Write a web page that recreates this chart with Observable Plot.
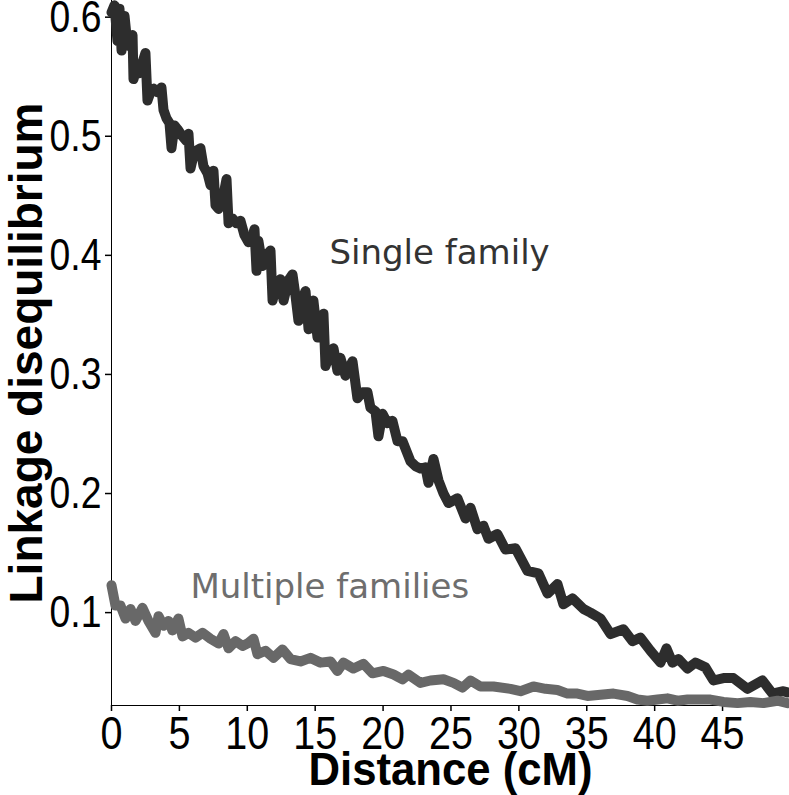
<!DOCTYPE html>
<html>
<head>
<meta charset="utf-8">
<script src="https://cdn.jsdelivr.net/npm/d3@7"></script>
<script src="https://cdn.jsdelivr.net/npm/@observablehq/plot@0.6"></script>
<style>
  html, body { margin: 0; padding: 0; background: #fff; overflow: hidden; }
  #chart { width: 789px; height: 795px; }
</style>
</head>
<body>
<div id="chart"></div>
<script>
// Single family series (distance cM, LD)
const distSingle = [0.0,0.22,0.44,0.59,0.74,0.96,1.18,1.40,1.55,1.62,1.84,2.06,2.28,2.50,2.65,2.87,3.09,3.39,3.68,3.83,4.05,4.27,4.42,4.64,4.86,5.15,5.52,5.67,5.82,6.04,6.26,6.55,6.77,7.07,7.29,7.51,7.66,7.88,8.17,8.47,8.62,8.91,9.20,9.50,9.79,10.09,10.31,10.53,10.68,10.82,11.12,11.41,11.71,11.86,12.15,12.44,12.67,13.03,13.33,13.55,13.77,14.06,14.29,14.51,14.87,15.17,15.61,15.76,16.05,16.35,16.64,16.86,17.23,17.75,18.11,18.48,18.85,19.07,19.44,19.66,19.96,20.32,20.69,21.06,21.43,22.02,22.39,22.75,23.12,23.34,23.71,24.08,24.45,24.82,25.48,26.07,26.44,26.95,27.39,27.76,28.42,29.01,29.75,30.63,31.44,32.11,32.84,33.28,33.95,34.76,35.27,36.01,36.75,37.70,38.37,38.95,39.69,40.43,40.87,41.31,41.75,42.42,43.00,43.74,44.33,45.07,45.80,46.83,47.94,48.67,49.48,49.78];
const ldSingle = [0.604,0.610,0.580,0.607,0.572,0.601,0.576,0.582,0.585,0.548,0.557,0.553,0.562,0.570,0.530,0.537,0.540,0.537,0.541,0.522,0.515,0.511,0.490,0.509,0.506,0.501,0.496,0.502,0.473,0.484,0.488,0.490,0.475,0.469,0.459,0.471,0.442,0.439,0.446,0.464,0.427,0.431,0.427,0.429,0.417,0.411,0.414,0.422,0.387,0.412,0.391,0.400,0.404,0.362,0.375,0.380,0.362,0.379,0.384,0.366,0.345,0.364,0.370,0.338,0.362,0.331,0.351,0.307,0.316,0.322,0.303,0.314,0.299,0.311,0.280,0.285,0.285,0.272,0.269,0.248,0.267,0.259,0.261,0.244,0.244,0.227,0.223,0.221,0.222,0.209,0.229,0.211,0.200,0.192,0.196,0.179,0.188,0.170,0.173,0.162,0.166,0.153,0.154,0.135,0.133,0.116,0.124,0.107,0.112,0.103,0.100,0.095,0.082,0.086,0.076,0.079,0.068,0.058,0.070,0.058,0.061,0.053,0.058,0.054,0.043,0.045,0.045,0.036,0.043,0.032,0.034,0.033];

// Multiple families series
const distMulti = [0.0,0.29,0.66,1.03,1.40,1.77,2.28,2.72,3.24,3.46,3.83,4.20,4.49,4.93,5.23,5.67,6.19,6.70,7.29,7.88,8.25,8.62,9.13,9.65,10.01,10.46,10.75,11.34,11.93,12.59,13.18,13.92,14.65,15.39,16.13,16.64,17.08,17.82,18.56,19.22,20.03,20.77,21.43,21.87,22.75,23.49,24.45,25.18,25.85,26.44,27.17,28.13,29.38,30.12,31.07,31.96,32.84,33.58,34.31,35.05,36.01,36.97,38.00,38.73,39.47,40.21,40.94,41.68,42.42,43.15,44.11,45.07,46.10,47.05,48.01,49.04,49.78];
const ldMulti = [0.123,0.106,0.106,0.095,0.103,0.093,0.104,0.093,0.083,0.097,0.089,0.093,0.085,0.095,0.080,0.083,0.079,0.083,0.078,0.074,0.082,0.070,0.076,0.072,0.074,0.078,0.065,0.068,0.062,0.069,0.061,0.059,0.062,0.058,0.059,0.051,0.058,0.053,0.057,0.049,0.051,0.048,0.044,0.048,0.041,0.043,0.044,0.041,0.037,0.043,0.038,0.038,0.036,0.034,0.038,0.036,0.035,0.032,0.032,0.030,0.031,0.032,0.030,0.027,0.026,0.027,0.028,0.026,0.027,0.027,0.027,0.025,0.024,0.025,0.024,0.026,0.024];

// Axis ticks and labels
const xTicks = [0,5,10,15,20,25,30,35,40,45];
const yTicks = [0.1,0.2,0.3,0.4,0.5,0.6];
const xTitle = ["Distance (cM)"];
const yTitle = ["Linkage disequilibrium"];
const seriesLabels = ["Single family", "Multiple families"];
const labelX = [16.05, 5.81];
const labelY = [0.402, 0.1216];

const single = distSingle.map((d, i) => ({x: d, y: ldSingle[i]}));
const multi = distMulti.map((d, i) => ({x: d, y: ldMulti[i]}));
const labels = seriesLabels.map((t, i) => ({t, x: labelX[i], y: labelY[i]}));

const chart = Plot.plot({
  width: 789,
  height: 795,
  marginLeft: 111,
  marginRight: 0,
  marginTop: 0,
  marginBottom: 90,
  style: {fontFamily: "'Liberation Sans', Arial, sans-serif", fontSize: "45px", color: "#000", background: "#fff"},
  x: {domain: [0, 49.93], ticks: xTicks, tickFormat: d3.format("d"), tickSize: 6, tickPadding: 4, line: true, label: null},
  y: {domain: [0.022, 0.614], ticks: yTicks, tickFormat: d3.format(".1f"), tickSize: 6, tickPadding: 4, line: true, label: null},
  marks: [
    Plot.line(single, {x: "x", y: "y", stroke: "#2d2d2d", strokeWidth: 10, strokeLinejoin: "round", strokeLinecap: "round"}),
    Plot.line(multi, {x: "x", y: "y", stroke: "#686868", strokeWidth: 10, strokeLinejoin: "round", strokeLinecap: "round"}),
    Plot.text(labels, {x: "x", y: "y", text: "t", textAnchor: "start", fontSize: 34, fontFamily: "'DejaVu Sans', Verdana, sans-serif", fill: (d, i) => i === 0 ? "#333333" : "#6e6e6e"}),
    Plot.text(xTitle, {text: d => d, frameAnchor: "bottom", textAnchor: "middle", lineAnchor: "middle", dy: 65, fontSize: 45, fontWeight: "bold", fontFamily: "'Liberation Sans', Arial, sans-serif", fill: "#000"}),
    Plot.text(yTitle, {text: d => d, frameAnchor: "left", textAnchor: "middle", lineAnchor: "middle", dx: -84, rotate: -90, fontSize: 46, fontWeight: "bold", fontFamily: "'Liberation Sans', Arial, sans-serif", fill: "#000"})
  ]
});
document.getElementById("chart").appendChild(chart);

const svg = d3.select(chart);
function condense(sel, size, ratio) {
  sel.attr("font-size", size).style("font-size", size + "px").each(function() {
    const L = this.getComputedTextLength();
    if (L > 0) {
      this.setAttribute("textLength", (L * ratio).toFixed(1));
      this.setAttribute("lengthAdjust", "spacingAndGlyphs");
    }
  });
}
condense(svg.selectAll('g[aria-label^="x-axis"] text'), 47, 0.84);
condense(svg.selectAll('g[aria-label^="y-axis"] text'), 45, 0.83);
condense(svg.selectAll('g[aria-label="text"] text').filter(function() { return this.textContent === "Distance (cM)"; }), 46, 0.95);
svg.selectAll('g[aria-label^="x-axis"] line, g[aria-label^="y-axis"] line, g[aria-label^="x-axis"] path, g[aria-label^="y-axis"] path').attr("stroke-width", 1.5);
</script>
</body>
</html>
